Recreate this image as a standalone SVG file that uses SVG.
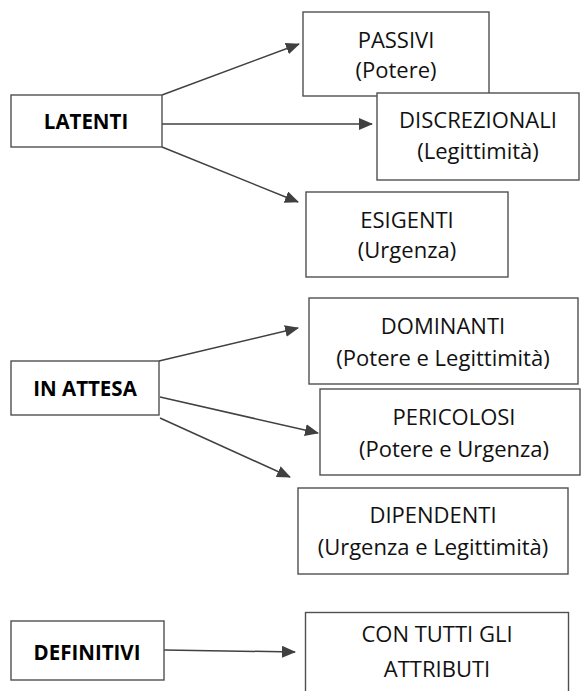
<svg xmlns="http://www.w3.org/2000/svg" width="581" height="691" viewBox="0 0 581 691">
<style>
.box{fill:#fff;stroke:#505050;stroke-width:1.4}
.t{font-family:"Open Sans","Liberation Sans",sans-serif;font-size:22px;fill:#111;text-anchor:middle}
.b{font-family:"Open Sans","Liberation Sans",sans-serif;font-size:20.5px;font-weight:bold;fill:#000;text-anchor:middle}
.c{stroke:#404040;stroke-width:1.5;fill:none;marker-end:url(#ah)}
</style>
<defs>
<marker id="ah" markerUnits="userSpaceOnUse" markerWidth="14" markerHeight="12" refX="13" refY="6" orient="auto" viewBox="0 0 14 12">
<path d="M0,0 L14,6 L0,12 z" fill="#404040"/>
</marker>
</defs>
<rect width="581" height="691" fill="#fff"/>
<g id="connectors">
<line class="c" x1="162" y1="95" x2="299" y2="44"/>
<line class="c" x1="162" y1="124" x2="372" y2="124"/>
<line class="c" x1="162" y1="147" x2="298" y2="202"/>
<line class="c" x1="159" y1="361" x2="298" y2="328"/>
<line class="c" x1="160" y1="397" x2="318" y2="433"/>
<line class="c" x1="160" y1="418" x2="290" y2="477"/>
<line class="c" x1="164" y1="650" x2="295" y2="652"/>
</g>
<g id="latenti">
<rect class="box" x="11" y="95" width="151" height="52"/>
<text class="b" x="86" y="129">LATENTI</text>
</g>
<g id="passivi">
<rect class="box" x="303" y="12" width="186" height="84"/>
<text class="t" x="396" y="48">PASSIVI</text>
<text class="t" x="396" y="78">(Potere)</text>
</g>
<g id="discrezionali">
<rect class="box" x="377" y="93" width="202" height="87"/>
<text class="t" x="478" y="128">DISCREZIONALI</text>
<text class="t" x="478" y="159">(Legittimità)</text>
</g>
<g id="esigenti">
<rect class="box" x="306" y="192" width="202" height="85"/>
<text class="t" x="407" y="228">ESIGENTI</text>
<text class="t" x="407" y="258">(Urgenza)</text>
</g>
<g id="in-attesa">
<rect class="box" x="11" y="361" width="148" height="54"/>
<text class="b" x="85" y="396">IN ATTESA</text>
</g>
<g id="dominanti">
<rect class="box" x="309" y="298" width="269" height="86"/>
<text class="t" x="443" y="334">DOMINANTI</text>
<text class="t" x="443" y="366">(Potere e Legittimità)</text>
</g>
<g id="pericolosi">
<rect class="box" x="320" y="389" width="260" height="86"/>
<text class="t" x="454" y="425">PERICOLOSI</text>
<text class="t" x="454" y="457">(Potere e Urgenza)</text>
</g>
<g id="dipendenti">
<rect class="box" x="298" y="488" width="270" height="86"/>
<text class="t" x="433" y="523">DIPENDENTI</text>
<text class="t" x="433" y="555">(Urgenza e Legittimità)</text>
</g>
<g id="definitivi">
<rect class="box" x="11" y="621" width="153" height="59"/>
<text class="b" x="87" y="660">DEFINITIVI</text>
</g>
<g id="con-tutti">
<rect class="box" x="305.5" y="612.5" width="263" height="90"/>
<text class="t" x="437" y="642">CON TUTTI GLI</text>
<text class="t" x="437" y="677">ATTRIBUTI</text>
</g>
</svg>
